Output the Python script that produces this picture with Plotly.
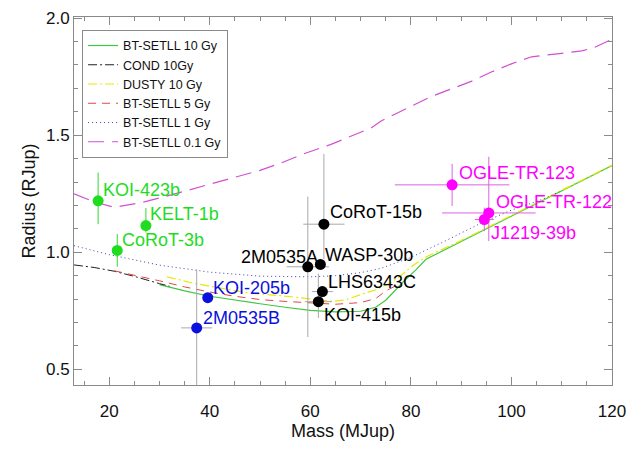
import plotly.graph_objects as go

# ---------------- data ----------------
# Model isochrones (mass in MJup, radius in RJup)
settl10_m = [30, 31.5, 35, 40, 45, 50, 55, 60, 65, 70, 73, 75, 77, 79, 81, 83, 90, 100, 110, 120]
settl10_r = [0.862, 0.853, 0.835, 0.812, 0.795, 0.780, 0.765, 0.752, 0.745, 0.748, 0.765, 0.795, 0.840, 0.885, 0.925, 0.970, 1.046, 1.154, 1.262, 1.370]

cond10_m = [13, 17, 21, 25, 30, 32]
cond10_r = [0.946, 0.935, 0.919, 0.897, 0.866, 0.855]

dusty10_m = [31.5, 36.7, 40, 48, 54, 59, 64.5, 67, 70, 73, 75.8, 78, 80.5, 83, 90, 100, 110, 120]
dusty10_r = [0.895, 0.868, 0.855, 0.825, 0.815, 0.804, 0.790, 0.797, 0.818, 0.840, 0.867, 0.900, 0.945, 0.980, 1.050, 1.158, 1.265, 1.372]

settl5_m = [21, 25, 30, 35, 40, 45, 50, 55, 60, 65, 70, 73, 75, 77.5]
settl5_r = [0.921, 0.903, 0.878, 0.852, 0.830, 0.812, 0.798, 0.790, 0.783, 0.778, 0.785, 0.802, 0.835, 0.862]

settl1_m = [13, 20, 30, 40, 50, 55, 60, 65, 70, 74, 80, 87, 94, 100, 106, 110]
settl1_r = [1.028, 0.990, 0.945, 0.915, 0.898, 0.895, 0.895, 0.900, 0.913, 0.931, 0.978, 1.050, 1.125, 1.180, 1.225, 1.262]

settl01_m = [13, 17, 21, 27, 34, 44, 50, 54, 58.6, 64, 72, 74, 84, 92, 96, 100, 104, 110, 114, 116.5, 120]
settl01_r = [1.250, 1.215, 1.192, 1.215, 1.255, 1.313, 1.350, 1.380, 1.420, 1.460, 1.530, 1.560, 1.665, 1.730, 1.770, 1.805, 1.835, 1.850, 1.860, 1.875, 1.910]

# Observed objects
obj_names = ["KOI-423b", "KELT-1b", "CoRoT-3b", "KOI-205b", "2M0535B", "2M0535A", "WASP-30b",
             "LHS6343C", "KOI-415b", "CoRoT-15b", "OGLE-TR-123", "OGLE-TR-122", "J1219-39b"]
obj_mass = [17.8, 27.3, 21.6, 39.6, 37.4, 59.5, 62.0, 62.4, 61.6, 62.7, 88.2, 95.5, 94.6]
obj_mass_err = [0.9, 0.9, 1.0, 1.0, 3.1, 4.2, 0.9, 2.1, 2.7, 4.1, 11.4, 9.3, 1.9]
obj_rad = [1.22, 1.114, 1.008, 0.806, 0.677, 0.938, 0.948, 0.832, 0.789, 1.12, 1.288, 1.168, 1.14]
obj_rad_errp = [0.12, 0.075, 0.07, 0.02, 0.25, 0.30, 0.02, 0.011, 0.12, 0.30, 0.09, 0.24, 0.05]
obj_rad_errm = [0.10, 0.03, 0.07, 0.02, 0.25, 0.30, 0.02, 0.011, 0.07, 0.15, 0.09, 0.12, 0.05]
obj_group = ["green", "green", "green", "blue", "blue", "black", "black",
             "black", "black", "black", "magenta", "magenta", "magenta"]

# ---------------- styles ----------------
group_style = {
    "green":   dict(color="#1fdc1f", err="#33d633"),
    "blue":    dict(color="#0b10dc", err="#a8a8b0"),
    "black":   dict(color="#000000", err="#a8a8a8"),
    "magenta": dict(color="#ff00ff", err="#e060e0"),
}
# label placement: (xanchor, xshift px, yshift px)
label_place = {
    "KOI-423b": ("left", 3, 11), "KELT-1b": ("left", 2, 12), "CoRoT-3b": ("left", 3, 10),
    "KOI-205b": ("left", 3, 10), "2M0535B": ("left", 4, 10), "2M0535A": ("right", 12, 10),
    "WASP-30b": ("left", 3, 9), "LHS6343C": ("left", 4, 10), "KOI-415b": ("left", 4, -13),
    "CoRoT-15b": ("left", 4, 12), "OGLE-TR-123": ("left", 5, 12), "OGLE-TR-122": ("left", 5, 11),
    "J1219-39b": ("left", 5, -14),
}

FONT = "Arial, Liberation Sans, sans-serif"
fig = go.Figure()

curves = [
    ("BT-SETLL 10 Gy", settl10_m, settl10_r, dict(color="#3fc83f", width=1.2, dash="solid")),
    ("COND 10Gy", cond10_m, cond10_r, dict(color="#202020", width=1, dash="9px,3px,2px,3px")),
    ("DUSTY 10 Gy", dusty10_m, dusty10_r, dict(color="#e8e800", width=1.2, dash="9px,3px,2px,3px")),
    ("BT-SETLL 5 Gy", settl5_m, settl5_r, dict(color="#e04848", width=1, dash="8px,6px")),
    ("BT-SETLL 1 Gy", settl1_m, settl1_r, dict(color="#4040b0", width=1, dash="1px,3px")),
    ("BT-SETLL 0.1 Gy", settl01_m, settl01_r, dict(color="#d050d0", width=1.2, dash="16px,8px")),
]
for name, xm, yr, line in curves:
    fig.add_trace(go.Scatter(x=xm, y=yr, mode="lines", name=name, line=line,
                             hoverinfo="skip"))

for g, st in group_style.items():
    idx = [i for i, gg in enumerate(obj_group) if gg == g]
    fig.add_trace(go.Scatter(
        x=[obj_mass[i] for i in idx], y=[obj_rad[i] for i in idx],
        mode="markers", showlegend=False,
        marker=dict(color=st["color"], size=11, line=dict(width=0)),
        error_x=dict(type="data", array=[obj_mass_err[i] for i in idx],
                     color=st["err"], thickness=1, width=0),
        error_y=dict(type="data", symmetric=False,
                     array=[obj_rad_errp[i] for i in idx],
                     arrayminus=[obj_rad_errm[i] for i in idx],
                     color=st["err"], thickness=1, width=0),
        text=[obj_names[i] for i in idx],
    ))

for i, nm in enumerate(obj_names):
    xa, xs, ys = label_place[nm]
    fig.add_annotation(x=obj_mass[i], y=obj_rad[i], text=nm, showarrow=False,
                       xanchor=xa, yanchor="middle", xshift=xs, yshift=ys,
                       font=dict(family=FONT, size=18, color=group_style[obj_group[i]]["color"]))

axis_common = dict(
    showline=True, linecolor="#8a8a8a", linewidth=1, mirror="allticks",
    ticks="inside", ticklen=8, tickcolor="#8a8a8a", tickwidth=1,
    showgrid=False, zeroline=False,
    tickfont=dict(family=FONT, size=17, color="#111111"),
)
fig.update_xaxes(range=[13, 120], tick0=0, dtick=20, ticklabelstandoff=11,
                 minor=dict(dtick=5, ticks="inside", ticklen=4, tickcolor="#8a8a8a"),
                 title=dict(text="Mass (MJup)", font=dict(family=FONT, size=18, color="#111111"), standoff=1),
                 **axis_common)
fig.update_yaxes(range=[0.433, 2.005], tick0=0, dtick=0.5, tickformat=".1f",
                 minor=dict(dtick=0.1, ticks="inside", ticklen=4, tickcolor="#8a8a8a"),
                 title=dict(text="Radius (RJup)", font=dict(family=FONT, size=18, color="#111111"), standoff=5),
                 **axis_common)

# the page body adds an 8px offset, so the figure is sized/placed to compensate
fig.update_layout(
    width=624, height=435,
    margin=dict(l=66, r=20, t=9, b=58, autoexpand=False),
    paper_bgcolor="white", plot_bgcolor="white",
    showlegend=True,
    legend=dict(x=0.015, y=0.965, xanchor="left", yanchor="top",
                bgcolor="rgba(255,255,255,0)", bordercolor="#8a8a8a", borderwidth=1,
                font=dict(family=FONT, size=12.5, color="#111111"), tracegroupgap=0),
)

fig.write_html("out.html")
